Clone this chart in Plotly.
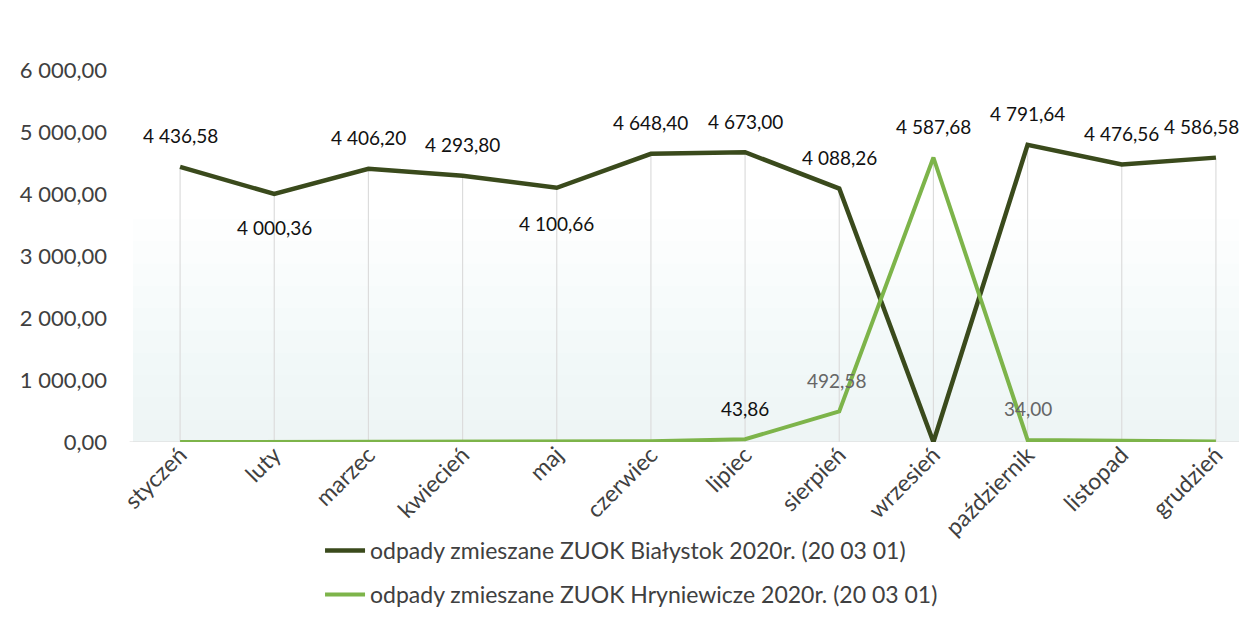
import plotly.graph_objects as go

months = ["styczeń", "luty", "marzec", "kwiecień", "maj", "czerwiec", "lipiec",
          "sierpień", "wrzesień", "październik", "listopad", "grudzień"]
bialystok = [4436.58, 4000.36, 4406.20, 4293.80, 4100.66, 4648.40, 4673.00,
             4088.26, 0.0, 4791.64, 4476.56, 4586.58]
hryniewicze = [0.0, 0.0, 0.0, 0.0, 0.0, 12.0, 43.86, 492.58, 4587.68, 34.00, 20.0, 10.0]
y_ticks = [0, 1000, 2000, 3000, 4000, 5000, 6000]
name_b = "odpady zmieszane ZUOK Białystok 2020r. (20 03 01)"
name_h = "odpady zmieszane ZUOK Hryniewicze 2020r. (20 03 01)"

# which points carry a data label, and label offsets in px (style only)
b_label = [True] * 12
b_label[8] = False
b_shift = [(0, 31), (0, -34), (0, 31), (0, 31), (0, -36), (0, 31), (0, 31),
           (0, 31), (0, 0), (0, 31), (0, 31), (-14, 31)]
h_label = [False] * 12
for i in (6, 7, 8, 9):
    h_label[i] = True
h_shift = {6: (0, 31), 7: (-3, 31), 8: (0, 31), 9: (0, 31)}
h_color = {6: "#111111", 7: "#666666", 8: "#111111", 9: "#666666"}

FONT = "Lato"
DARK = "#3a4a1c"
LIGHT = "#7db44a"


def fmt(v):
    s = f"{v:,.2f}"
    return s.replace(",", " ").replace(".", ",")


fig = go.Figure()

# faint background gradient (decoration)
steps = 10
for k in range(steps):
    fig.add_shape(type="rect", xref="paper", yref="paper",
                  x0=-0.0, x1=1.0, y0=0, y1=0.6 * (k + 1) / steps,
                  fillcolor="rgba(226,236,246,0.075)", line_width=0, layer="below")

# drop lines from the higher series down to the axis
dx, dy = [], []
for m, b, h in zip(months, bialystok, hryniewicze):
    dx += [m, m, None]
    dy += [0, max(b, h), None]
fig.add_trace(go.Scatter(x=dx, y=dy, mode="lines", line=dict(color="#dcdcdc", width=1.2),
                         showlegend=False, hoverinfo="skip"))

fig.add_trace(go.Scatter(x=months, y=bialystok, mode="lines", name=name_b,
                         line=dict(color=DARK, width=4.5), legendgroup="a"))
fig.add_trace(go.Scatter(x=months, y=hryniewicze, mode="lines", name=name_h,
                         line=dict(color=LIGHT, width=4), legendgroup="b"))

for i, (m, v) in enumerate(zip(months, bialystok)):
    if b_label[i]:
        xs, ys = b_shift[i]
        fig.add_annotation(x=m, y=v, xref="x", yref="y", text=fmt(v), showarrow=False,
                           xshift=xs, yshift=ys, font=dict(family=FONT, size=19, color="#111111"))
for i, (m, v) in enumerate(zip(months, hryniewicze)):
    if h_label[i]:
        xs, ys = h_shift[i]
        fig.add_annotation(x=m, y=v, xref="x", yref="y", text=fmt(v), showarrow=False,
                           xshift=xs, yshift=ys, font=dict(family=FONT, size=19, color=h_color[i]))

fig.update_layout(
    width=1247, height=622,
    margin=dict(l=125, r=0, t=62, b=188),
    paper_bgcolor="white", plot_bgcolor="rgba(0,0,0,0)",
    font=dict(family=FONT, size=20, color="#404040"),
    showlegend=True,
    legend=dict(orientation="v", x=0.1667, y=-0.234, xanchor="left", yanchor="top",
                font=dict(family=FONT, size=23, color="#404040"),
                tracegroupgap=11, traceorder="grouped", itemwidth=40,
                bgcolor="rgba(0,0,0,0)"),
)
fig.update_xaxes(range=[-0.5, 11.415], tickangle=-45, showgrid=False, showline=False,
                 ticks="", tickfont=dict(family=FONT, size=23, color="#404040"),
                 zeroline=False, fixedrange=True, automargin=False, ticklabelstandoff=-6)
fig.update_yaxes(range=[0, 6000], tickvals=y_ticks, ticktext=[fmt(v) for v in y_ticks],
                 showgrid=False, zeroline=False, showline=False, ticks="", automargin=False,
                 ticklabelstandoff=25, tickfont=dict(family=FONT, size=22, color="#404040"))
fig.add_shape(type="line", xref="paper", yref="y", x0=-0.003, x1=1, y0=0, y1=0,
              line=dict(color="#d9d9d9", width=1.2), layer="below")

fig.write_html("out.html")
